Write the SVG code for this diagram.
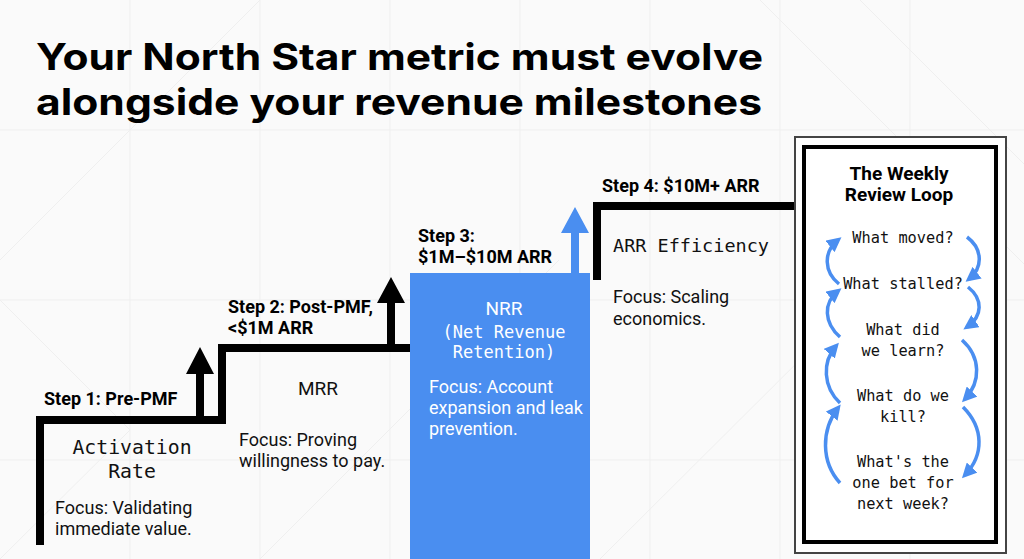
<svg xmlns="http://www.w3.org/2000/svg" width="1024" height="559" viewBox="0 0 1024 559">
<defs>
<style>
.title{font-family:Inter,Roboto,"Liberation Sans",sans-serif;font-weight:700;font-size:37px;fill:#000}
.step{font-family:Roboto,"Liberation Sans",sans-serif;font-weight:700;font-size:18px;fill:#000}
.mono{font-family:"DejaVu Sans Mono","Liberation Mono",monospace;font-size:19px;fill:#111}
.sans{font-family:Roboto,"Liberation Sans",sans-serif;font-size:18px;fill:#111}
.loop{font-family:"DejaVu Sans Mono","Liberation Mono",monospace;font-size:15.3px;fill:#111}
.ptitle{font-family:Roboto,"Liberation Sans",sans-serif;font-weight:700;font-size:19px;fill:#000}
.w{fill:#fff}
.stair{fill:none;stroke:#000;stroke-width:8;stroke-linejoin:miter}
.bg{stroke:#efefef;stroke-width:1;fill:none}
.loopArc{fill:none;stroke:#4a8ef0;stroke-width:3.5}
</style>
<marker id="ah" viewBox="0 0 10 10" refX="7" refY="5" markerWidth="4.2" markerHeight="4.2" orient="auto">
<path d="M0,0 L10,5 L0,10 z" fill="#4a8ef0"/>
</marker>
</defs>
<rect width="1024" height="559" fill="#fafafa"/>
<g id="background">
<path class="bg" d="M130,0 V559 M260,0 V559 M390,0 V559 M520,0 V559 M650,0 V559 M780,0 V559 M910,0 V559 M0,130 H1024 M0,300 H1024 M0,460 H1024 M0,260 L260,0 M260,559 L559,260 M760,0 L1024,264 M860,0 L1024,164 M600,559 L860,300 M0,300 L130,430 M130,430 L0,559"/>
</g>
<g id="title">
<text class="title" x="36" y="70" textLength="727" lengthAdjust="spacingAndGlyphs">Your North Star metric must evolve</text>
<text class="title" x="36" y="115" textLength="726" lengthAdjust="spacingAndGlyphs">alongside your revenue milestones</text>
</g>
<g id="connectors">
<path class="stair" d="M40,545 V420 H222 V348 H410"/>
<path class="stair" d="M597,280 V206 H798"/>
<path d="M196,420 V374 H186 L200,347 L214,374 H204 V420 z" fill="#000"/>
<path d="M387,348 V303 H377 L391,277 L405,303 H395 V348 z" fill="#000"/>
</g>
<g id="step3-block">
<rect x="410" y="273" width="180" height="286" fill="#4a8ef0"/>
<path d="M571,274 V233 H561 L575,207 L589,233 H579 V274 z" fill="#4a8ef0"/>
</g>
<g id="step1">
<text class="step" x="44" y="405">Step 1: Pre-PMF</text>
<text class="mono" x="132" y="454" text-anchor="middle" style="font-size:19.8px">Activation</text>
<text class="mono" x="132" y="478" text-anchor="middle" style="font-size:19.8px">Rate</text>
<text class="sans" x="55" y="514">Focus: Validating</text>
<text class="sans" x="55" y="535">immediate value.</text>
</g>
<g id="step2">
<text class="step" x="228" y="313">Step 2: Post-PMF,</text>
<text class="step" x="228" y="334">&lt;$1M ARR</text>
<text class="sans" x="318" y="395" text-anchor="middle" style="font-size:19px">MRR</text>
<text class="sans" x="239" y="446">Focus: Proving</text>
<text class="sans" x="239" y="467">willingness to pay.</text>
</g>
<g id="step3">
<text class="step" x="418" y="242">Step 3:</text>
<text class="step" x="418" y="263">$1M–$10M ARR</text>
<text class="sans w" x="504" y="315" text-anchor="middle" style="font-size:19px">NRR</text>
<text class="mono w" x="504" y="338" text-anchor="middle" style="font-size:17px">(Net Revenue</text>
<text class="mono w" x="504" y="358" text-anchor="middle" style="font-size:17px">Retention)</text>
<text class="sans w" x="429" y="393">Focus: Account</text>
<text class="sans w" x="429" y="414">expansion and leak</text>
<text class="sans w" x="429" y="435">prevention.</text>
</g>
<g id="step4">
<text class="step" x="602" y="192">Step 4: $10M+ ARR</text>
<text class="mono" x="613" y="252" style="font-size:18.5px">ARR Efficiency</text>
<text class="sans" x="613" y="303">Focus: Scaling</text>
<text class="sans" x="613" y="325">economics.</text>
</g>
<g id="weekly-review-loop">
<rect x="795" y="137" width="211" height="416" fill="#fff" stroke="#444" stroke-width="2"/>
<rect x="804" y="147" width="192" height="395" fill="none" stroke="#000" stroke-width="4"/>
<text class="ptitle" x="899" y="180" text-anchor="middle">The Weekly</text>
<text class="ptitle" x="899" y="201" text-anchor="middle">Review Loop</text>
<text class="loop" x="903" y="243" text-anchor="middle">What moved?</text>
<text class="loop" x="903" y="289" text-anchor="middle">What stalled?</text>
<text class="loop" x="903" y="335" text-anchor="middle">What did</text>
<text class="loop" x="903" y="356" text-anchor="middle">we learn?</text>
<text class="loop" x="903" y="401" text-anchor="middle">What do we</text>
<text class="loop" x="903" y="422" text-anchor="middle">kill?</text>
<text class="loop" x="903" y="467" text-anchor="middle">What's the</text>
<text class="loop" x="903" y="488" text-anchor="middle">one bet for</text>
<text class="loop" x="903" y="509" text-anchor="middle">next week?</text>
</g>
<g id="loop-connectors">
<path class="loopArc" marker-end="url(#ah)" d="M839,284 C824,272 823,252 838,240"/>
<path class="loopArc" marker-end="url(#ah)" d="M840,337 C824,323 823,303 838,291"/>
<path class="loopArc" marker-end="url(#ah)" d="M840,403 C823,387 822,362 836,346"/>
<path class="loopArc" marker-end="url(#ah)" d="M840,483 C821,462 821,430 838,408"/>
<path class="loopArc" marker-end="url(#ah)" d="M967,237 C983,249 983,268 969,279"/>
<path class="loopArc" marker-end="url(#ah)" d="M968,287 C983,299 983,316 967,327"/>
<path class="loopArc" marker-end="url(#ah)" d="M962,340 C981,357 981,382 965,399"/>
<path class="loopArc" marker-end="url(#ah)" d="M963,407 C984,428 984,455 965,475"/>
</g>
</svg>
